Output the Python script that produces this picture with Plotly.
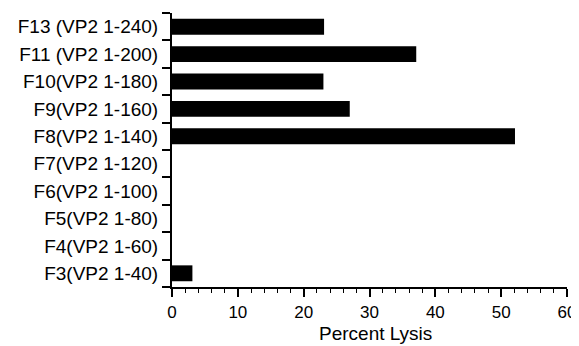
import plotly.graph_objects as go

categories = ["F13 (VP2 1-240)", "F11 (VP2 1-200)", "F10(VP2 1-180)", "F9(VP2 1-160)",
              "F8(VP2 1-140)", "F7(VP2 1-120)", "F6(VP2 1-100)", "F5(VP2 1-80)",
              "F4(VP2 1-60)", "F3(VP2 1-40)"]
percent_lysis = [23.1, 37.1, 23.0, 27.0, 52.1, 0.0, 0.0, 0.0, 0.0, 3.1]
x_tick_vals = [0, 10, 20, 30, 40, 50, 60]
x_title = "Percent Lysis"

font_family = "Liberation Sans, Arial, Helvetica, sans-serif"

fig = go.Figure(go.Bar(
    x=percent_lysis,
    y=categories,
    orientation="h",
    marker=dict(color="black", line=dict(width=0)),
    width=0.58,
))

# page body has an 8px margin, so the figure is sized/offset to compensate
fig.update_layout(
    width=571, height=338,
    margin=dict(l=164, r=12, t=5, b=59, autoexpand=False),
    paper_bgcolor="white", plot_bgcolor="white",
    font=dict(family=font_family, size=18, color="black"),
    showlegend=False,
    annotations=[dict(
        text=x_title, xref="paper", yref="paper", x=0.516, y=-0.17,
        xanchor="center", yanchor="middle", showarrow=False,
        font=dict(size=19, color="black"),
    )],
)

fig.update_xaxes(
    range=[0, 60],
    tickvals=x_tick_vals,
    ticks="outside", ticklen=8, tickwidth=1.5, tickcolor="black",
    minor=dict(dtick=2, tick0=0, ticks="outside", ticklen=4, tickwidth=1, tickcolor="black", showgrid=False),
    showline=True, linewidth=2, linecolor="black",
    showgrid=False, zeroline=False, automargin=False,
    tickfont=dict(size=17), ticklabelstandoff=1,
)

fig.update_yaxes(
    categoryorder="array",
    categoryarray=categories[::-1],
    range=[-0.5, len(categories) - 0.5],
    tickson="boundaries",
    ticks="outside", ticklen=8, tickwidth=1.5, tickcolor="black",
    showline=True, linewidth=2, linecolor="black",
    showgrid=False, zeroline=False, automargin=False,
    tickfont=dict(size=19), ticklabelstandoff=8,
)

fig.write_html("out.html")
